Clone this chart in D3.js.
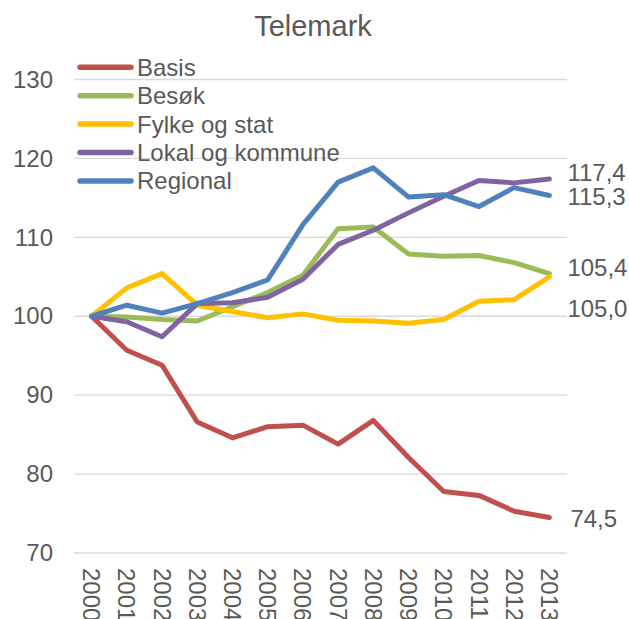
<!DOCTYPE html>
<html>
<head>
<meta charset="utf-8">
<script src="https://cdn.jsdelivr.net/npm/d3@7/dist/d3.min.js"></script>
<style>
html,body{margin:0;padding:0;background:#fff;}
svg{display:block;}
text{font-family:"Liberation Sans",Arial,sans-serif;fill:#595959;}
</style>
</head>
<body>
<svg id="chart" width="629" height="619"></svg>
<script>
const title = "Telemark";
const years = ["2000","2001","2002","2003","2004","2005","2006","2007","2008","2009","2010","2011","2012","2013"];
const yTicks = [70, 80, 90, 100, 110, 120, 130];
const seriesNames = ["Basis", "Besøk", "Fylke og stat", "Lokal og kommune", "Regional"];
const basis    = [100, 95.7, 93.8, 86.6, 84.6, 86.0, 86.2, 83.8, 86.8, 82.1, 77.8, 77.3, 75.3, 74.5];
const besok    = [100, 99.9, 99.6, 99.4, 101.2, 103.0, 105.2, 111.1, 111.3, 107.9, 107.6, 107.7, 106.8, 105.4];
const fylke    = [100, 103.6, 105.4, 101.4, 100.6, 99.8, 100.3, 99.5, 99.4, 99.1, 99.6, 101.9, 102.1, 105.0];
const lokal    = [100, 99.3, 97.4, 101.6, 101.7, 102.4, 104.7, 109.1, 110.9, 113.1, 115.2, 117.2, 116.9, 117.4];
const regional = [100, 101.4, 100.4, 101.6, 103.0, 104.6, 111.6, 117.0, 118.8, 115.1, 115.4, 113.9, 116.3, 115.3];
const endLabels = ["74,5", "105,4", "105,0", "117,4", "115,3"];

const colors = ["#C0504D", "#9BBB59", "#FFC000", "#8064A2", "#4F81BD"];
const allSeries = [basis, besok, fylke, lokal, regional];
// vertical nudges for end labels (layout only)
const labelNudge = [1.5, -6, 32, -6, 1];
const labelDx = [7, 4, 4, 4, 4];

const svg = d3.select("#chart");
const pLeft = 74, pRight = 567, pTop = 79.5, pBottom = 553;

const x = d3.scaleBand().domain(years).range([pLeft, pRight]).padding(0);
const xc = d => x(d) + x.bandwidth() / 2;
const y = d3.scaleLinear().domain([70, 130]).range([pBottom, pTop]);

// gridlines
svg.append("g").selectAll("line").data(yTicks).join("line")
  .attr("x1", pLeft).attr("x2", pRight)
  .attr("y1", d => y(d)).attr("y2", d => y(d))
  .attr("stroke", "#D9D9D9").attr("stroke-width", 1.3);

// y axis labels
const yAxis = d3.axisLeft(y).tickValues(yTicks).tickSize(0).tickPadding(0).tickFormat(d3.format("d"));
const yg = svg.append("g").attr("transform", `translate(${pLeft - 21},0)`).call(yAxis);
yg.select(".domain").remove();
yg.selectAll("text").attr("font-size", 24).attr("fill", "#595959")
  .style("font-family", '"Liberation Sans", Arial, sans-serif');

// x axis labels (rotated)
svg.append("g").selectAll("text").data(years).join("text")
  .attr("transform", d => `translate(${xc(d)},${568}) rotate(90)`)
  .attr("dy", "0.35em")
  .attr("text-anchor", "start")
  .attr("font-size", 24)
  .text(d => d);

// title
svg.append("text").attr("x", 313).attr("y", 36).attr("text-anchor", "middle")
  .attr("font-size", 29).text(title);

// lines
const line = d3.line().x((d, i) => xc(years[i])).y(d => y(d));
svg.append("g").selectAll("path").data(allSeries).join("path")
  .attr("d", d => line(d))
  .attr("fill", "none")
  .attr("stroke", (d, i) => colors[i])
  .attr("stroke-width", 5)
  .attr("stroke-linejoin", "round")
  .attr("stroke-linecap", "round");

// end labels
svg.append("g").selectAll("text").data(allSeries).join("text")
  .attr("x", (d, i) => xc(years[years.length - 1]) + 14 + labelDx[i])
  .attr("y", (d, i) => y(d[d.length - 1]) + labelNudge[i])
  .attr("dy", "0.35em")
  .attr("font-size", 24)
  .text((d, i) => endLabels[i]);

// legend
const lg = svg.append("g");
const legY0 = 67.3, legStep = 28.4;
seriesNames.forEach((n, i) => {
  const yy = legY0 + i * legStep;
  lg.append("line").attr("x1", 80).attr("x2", 131).attr("y1", yy).attr("y2", yy)
    .attr("stroke", colors[i]).attr("stroke-width", 5.5).attr("stroke-linecap", "round");
  lg.append("text").attr("x", 137).attr("y", yy).attr("dy", "0.35em")
    .attr("font-size", 24).text(n);
});
</script>
</body>
</html>
